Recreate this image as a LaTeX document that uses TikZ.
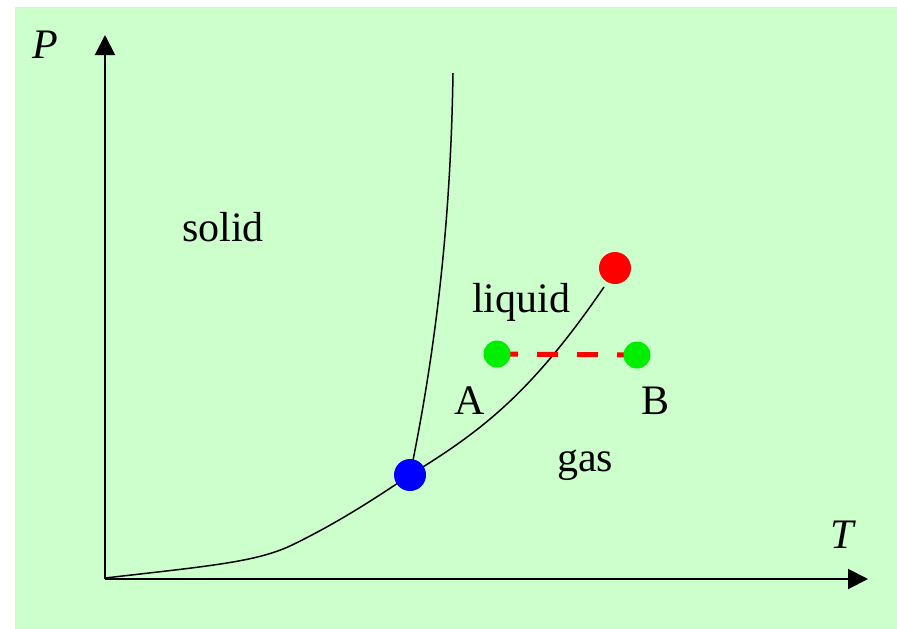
\documentclass[tikz,border=0pt]{standalone}
\usepackage{fontspec}
\setmainfont{Liberation Serif}
\usetikzlibrary{arrows.meta}
\definecolor{bggreen}{HTML}{CCFFCC}
\definecolor{ptgreen}{HTML}{00EE00}
\begin{document}
\begin{tikzpicture}[x=1pt,y=-1pt,
  lbl/.style={font=\fontsize{42}{42}\selectfont, inner sep=0pt},
  axis/.style={line width=2pt, -{Triangle[width=20pt,length=20pt]}},
  curve/.style={line width=1.5pt},
  dot/.style={circle, inner sep=0pt, minimum size=#1}]
\fill[white] (0,0) rectangle (897,629);
\useasboundingbox (0,0) rectangle (897,629);
\fill[bggreen] (15,7) rectangle (897,629);
% coordinates
\coordinate (O) at (105,579);
\coordinate (Ytip) at (105,35);
\coordinate (Xtip) at (868,579);
\coordinate (F) at (453,73);
\coordinate (V) at (604,287);
% nodes for points
\node[dot=32pt] (tp) at (410,475) {};
\node[dot=32pt] (cp) at (615,268) {};
% curves
\draw[curve] (tp.center) .. controls (440,330) and (451,200) .. (F);
\draw[curve] (105,578) .. controls (210,566) and (255,562) .. (290,546)
   .. controls (340,522) and (380,495) .. (tp.center)
   .. controls (480,432) and (530,395) .. (V);
% axes
\draw[axis] (O) -- (Ytip);
\draw[axis] (O) -- (Xtip);
% dashed line
\node[dot=27pt] (A) at (497,354) {};
\node[dot=27pt] (B) at (637,355) {};
\draw[red, line width=5pt, dash pattern=on 21pt off 19pt] (A.center) -- (B.center);
% dots
\fill[blue] (tp) circle (16pt);
\fill[red] (cp) circle (16pt);
\fill[ptgreen] (A) circle (13.5pt);
\fill[ptgreen] (B) circle (13.5pt);
% labels
\node[lbl] (P) at (45,45) {\textit{P}};
\node[lbl] (T) at (843,535) {\textit{T}};
\node[lbl] (solid) at (223,227) {solid};
\node[lbl] (liquid) at (521,302) {liquid};
\node[lbl] (gas) at (585,465) {gas};
\node[lbl] (la) at (470,401) {A};
\node[lbl] (lb) at (655,401) {B};
\end{tikzpicture}
\end{document}
